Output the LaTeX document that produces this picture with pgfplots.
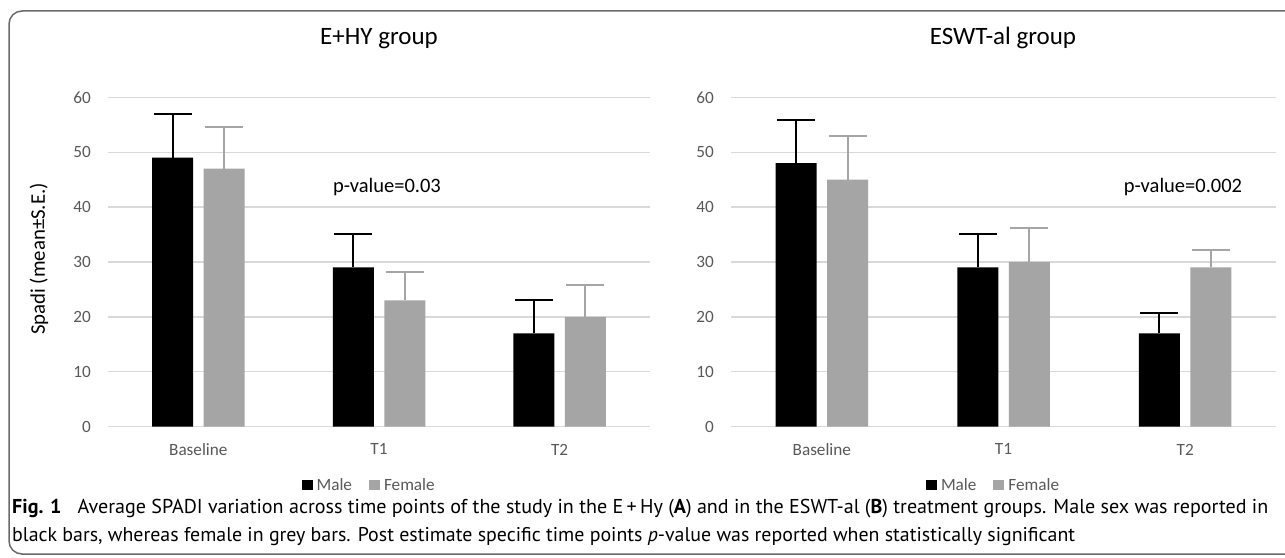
\documentclass[border=0pt]{standalone}
\usepackage{pgfplots}
\usepackage{pgfplotstable}
\pgfplotsset{compat=1.18}
\usepackage{fontspec}
\setmainfont{Carlito}
\newfontfamily\capfont{PT Sans}
\definecolor{gridc}{HTML}{D9D9D9}
\definecolor{femc}{HTML}{A5A5A5}
\definecolor{tickc}{HTML}{595959}
\definecolor{framec}{HTML}{6A6A6A}

\pgfplotstableread{
x y e
0 49 8.0
1 29 6.1
2 17 6.0
}\leftmale
\pgfplotstableread{
x y e
0 47 7.5
1 23 5.1
2 20 5.8
}\leftfemale
\pgfplotstableread{
x y e
0 48 7.8
1 29 6.1
2 17 3.65
}\rightmale
\pgfplotstableread{
x y e
0 45 8.0
1 30 6.2
2 29 3.25
}\rightfemale

\pgfplotsset{
 panel/.style={
  scale only axis, width=#1, height=329.4pt,
  xmin=-0.5, xmax=2.5, ymin=0, ymax=60,
  xtick={0,1,2}, xticklabels={Baseline,T1,T2},
  ytick={0,10,...,60},
  major tick length=0pt,
  tick style={draw=none},
  axis line style={draw=none},
  ymajorgrids, grid style={gridc, line width=1.3pt},
  tick label style={font=\fontsize{17.2}{20}\selectfont, text=tickc},
  /pgf/number format/assume math mode=true,
  yticklabel style={inner sep=0pt, anchor=east},
  yticklabel shift=17pt,
  xticklabel style={inner sep=0pt, anchor=north},
  xticklabel shift=17pt,
  clip=false,
  legend style={at={(0.48,-0.177)}, anchor=center, draw=none, fill=none,
    legend columns=2, font=\fontsize{17.2}{20}\selectfont, text=tickc,
    inner sep=0pt, nodes={inner sep=0pt}},
  legend cell align=left,
  legend image code/.code={\fill[##1] (0pt,-5pt) rectangle (11pt,5.5pt); \path (15pt,0pt);},
 },
 malebar/.style={ybar, bar width=41pt, bar shift=-25.75pt, fill=black, draw=none},
 femalebar/.style={ybar, bar width=41pt, bar shift=25.75pt, fill=femc, draw=none},
 errb/.style={draw=none, mark=none, forget plot,
   error bars/.cd, y dir=plus, y explicit, error mark=|,
   error bar style={line width=2pt, #1},
   error mark options={line width=2pt, mark size=19pt, #1}},
}

\begin{document}
\begin{tikzpicture}[x=1pt,y=1pt]
\useasboundingbox (0,0) rectangle (1285,557);
\fill[white] (0,0) rectangle (1285,557);
% frame
\draw[framec, line width=1.5pt, rounded corners=13pt] (1300,546) -- (9,546) -- (9,3) -- (1300,3);

% left panel
\begin{axis}[panel=542pt, at={(108pt,130.3pt)}, anchor=south west]
\addplot[malebar] table[x=x,y=y] {\leftmale};
\addlegendentry{Male\hspace*{17pt}}
\addplot[femalebar] table[x=x,y=y] {\leftfemale};
\addlegendentry{Female}
\addplot[errb=black] table[x expr=\thisrow{x}-0.1425,y=y,y error=e] {\leftmale};
\addplot[errb=femc] table[x expr=\thisrow{x}+0.1425,y=y,y error=e] {\leftfemale};
\node[anchor=base, font=\fontsize{20.5}{24}\selectfont] at (axis cs:1.044,42.6) {p-value=0.03};
\end{axis}

% right panel
\begin{axis}[panel=545pt, at={(731pt,130.3pt)}, anchor=south west]
\addplot[malebar] table[x=x,y=y] {\rightmale};
\addlegendentry{Male\hspace*{17pt}}
\addplot[femalebar] table[x=x,y=y] {\rightfemale};
\addlegendentry{Female}
\addplot[errb=black] table[x expr=\thisrow{x}-0.1417,y=y,y error=e] {\rightmale};
\addplot[errb=femc] table[x expr=\thisrow{x}+0.1417,y=y,y error=e] {\rightfemale};
\node[anchor=base, font=\fontsize{20.5}{24}\selectfont] at (axis cs:1.988,42.6) {p-value=0.002};
\end{axis}

% titles
\node[anchor=base, font=\fontsize{25}{30}\selectfont] at (379,512) {E+HY group};
\node[anchor=base, font=\fontsize{25}{30}\selectfont] at (1003,512) {ESWT-al group};
% y label
\node[rotate=90, font=\fontsize{20.8}{24}\selectfont] at (39,298) {Spadi (mean±S.E.)};

% caption
\node[anchor=base west, inner sep=0pt] at (12,44) {\resizebox{1256pt}{!}{\capfont\fontsize{17}{20}\selectfont\textbf{Fig. 1}\hspace{0.8em}Average SPADI variation across time points of the study in the E\,+\,Hy (\textbf{A}) and in the ESWT-al (\textbf{B}) treatment groups. Male sex was reported in}};
\node[anchor=base west, inner sep=0pt] at (12,16) {\resizebox{1063pt}{!}{\capfont\fontsize{17}{20}\selectfont black bars, whereas female in grey bars. Post estimate specific time points \textit{p}-value was reported when statistically significant}};
\end{tikzpicture}
\end{document}
